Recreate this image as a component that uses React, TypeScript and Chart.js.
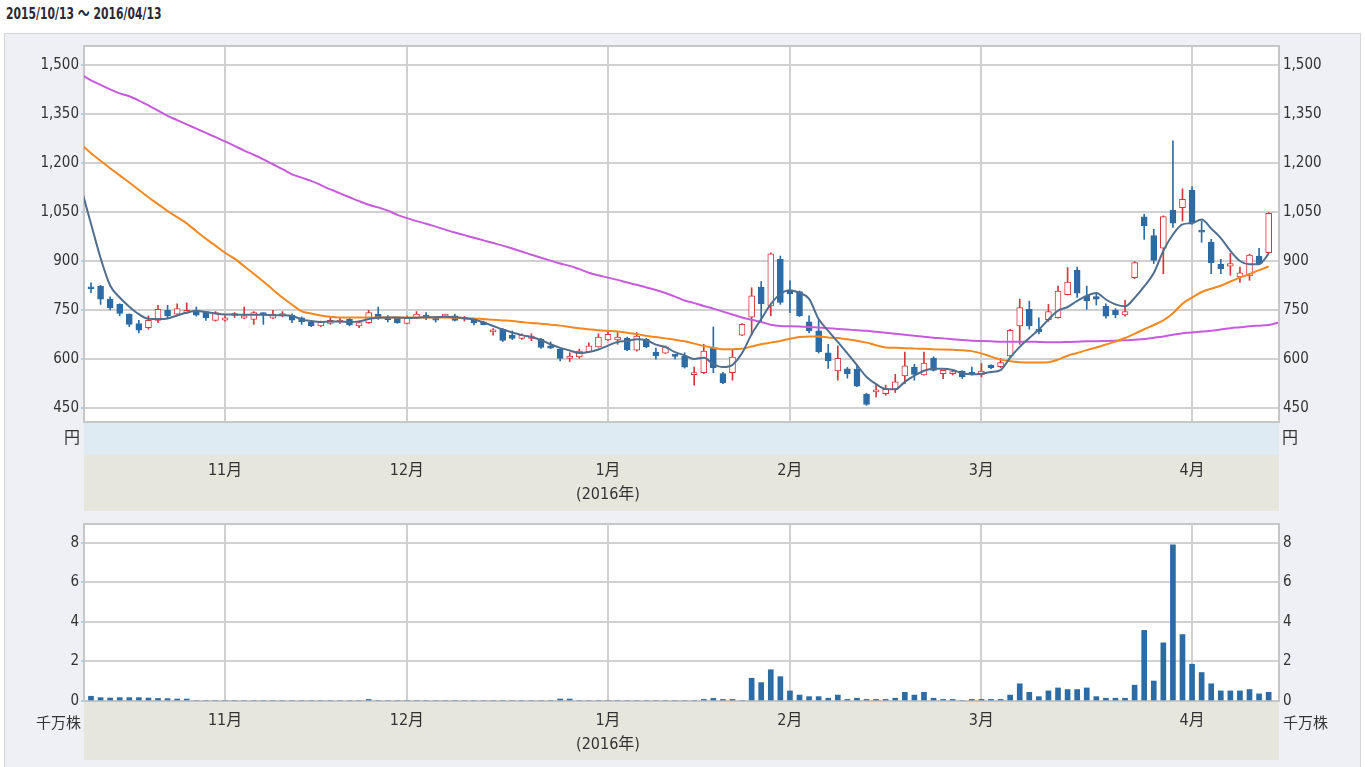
import React, { useEffect, useRef } from "react";
import { Chart, registerables } from "chart.js";
Chart.register(...registerables);

const FONT = '"Liberation Sans Narrow", "Arial Narrow", "DejaVu Sans Condensed", "Noto Sans CJK JP", sans-serif';

const periodTitle = "2015/10/13 ～ 2016/04/13";
const priceUnit = "円";
const volumeUnit = "千万株";
const monthTickDays = [14, 33, 54, 73, 93, 115];
const monthTickLabels: (string | string[])[] = ["11月", "12月", ["1月", "(2016年)"], "2月", "3月", "4月"];
const priceTicks = [450, 600, 750, 900, 1050, 1200, 1350, 1500];
const volumeTicks = [0, 2, 4, 6, 8];

// daily candles, trading days 0..123 (2015/10/13 .. 2016/04/13)
const opens = [820, 823, 783, 767, 737, 708, 696, 718, 749, 737, 740, 749, 744, 718, 719, 733, 725, 721, 740, 725,
  733, 734, 726, 713, 701, 709, 713, 721, 701, 711, 737, 728, 725, 709, 726, 732, 725, 731, 732, 722,
  721, 714, 683, 691, 673, 663, 663, 660, 640, 630, 602, 606, 622, 637, 658, 658, 663, 627, 660, 621,
  618, 612, 609, 552, 558, 635, 555, 558, 673, 728, 820, 762, 905, 808, 806, 714, 686, 619, 563, 570,
  568, 492, 499, 494, 507, 548, 575, 551, 602, 555, 555, 563, 556, 551, 581, 576, 609, 701, 752, 691,
  720, 726, 797, 872, 793, 791, 762, 749, 735, 849, 1035, 978, 939, 1055, 1063, 1117, 992, 957, 890, 884,
  851, 854, 915, 925];
const highs = [833, 825, 790, 769, 738, 718, 732, 764, 764, 769, 772, 759, 745, 745, 732, 742, 759, 745, 741, 749,
  745, 738, 729, 716, 716, 727, 724, 724, 716, 749, 759, 733, 727, 732, 745, 742, 729, 737, 737, 730,
  724, 716, 693, 693, 686, 677, 677, 663, 652, 632, 619, 630, 649, 677, 686, 681, 667, 681, 663, 633,
  640, 612, 619, 575, 645, 698, 559, 627, 708, 818, 837, 925, 915, 839, 808, 732, 718, 645, 640, 574,
  582, 495, 520, 520, 553, 621, 584, 621, 607, 566, 562, 564, 575, 586, 582, 602, 691, 783, 777, 726,
  767, 823, 880, 881, 823, 803, 769, 754, 780, 898, 1043, 997, 1038, 1268, 1121, 1127, 1022, 966, 905, 923,
  881, 921, 939, 1048];
const lows = [803, 767, 750, 732, 699, 680, 691, 711, 726, 736, 739, 731, 718, 716, 716, 727, 723, 706, 706, 723,
  729, 711, 706, 699, 699, 706, 709, 701, 696, 709, 721, 713, 709, 708, 723, 720, 713, 726, 716, 716,
  704, 704, 673, 653, 659, 660, 656, 632, 632, 594, 592, 602, 620, 636, 656, 645, 625, 624, 634, 599,
  617, 600, 572, 520, 555, 558, 524, 535, 671, 673, 716, 732, 767, 742, 730, 680, 618, 571, 535, 541,
  515, 458, 484, 489, 497, 524, 535, 550, 563, 540, 551, 540, 550, 545, 570, 573, 606, 645, 691, 677,
  715, 725, 796, 788, 752, 765, 725, 726, 731, 846, 966, 892, 861, 1003, 1022, 1012, 957, 861, 861, 856,
  834, 841, 890, 922];
const closes = [815, 783, 757, 739, 706, 688, 718, 752, 732, 754, 749, 734, 726, 742, 726, 736, 732, 742, 736, 737,
  736, 719, 714, 701, 713, 718, 717, 704, 711, 742, 726, 720, 710, 726, 737, 728, 719, 734, 718, 726,
  710, 705, 688, 657, 663, 673, 670, 635, 633, 602, 609, 624, 640, 667, 675, 667, 628, 670, 637, 609,
  637, 608, 575, 557, 624, 573, 527, 606, 706, 793, 769, 922, 773, 800, 732, 686, 622, 594, 602, 555,
  517, 461, 505, 507, 530, 579, 553, 587, 565, 565, 558, 545, 553, 563, 573, 589, 688, 757, 701, 683,
  745, 808, 835, 801, 778, 783, 731, 735, 745, 895, 1007, 902, 1036, 1016, 1089, 1016, 988, 895, 876, 892,
  864, 918, 892, 1046];
// volume, 千万株
const volumes = [0.24, 0.17, 0.15, 0.17, 0.17, 0.17, 0.15, 0.13, 0.12, 0.1, 0.1, 0, 0, 0, 0, 0, 0, 0, 0, 0,
  0, 0, 0, 0, 0, 0, 0, 0, 0, 0.08, 0, 0, 0, 0, 0, 0, 0, 0, 0, 0,
  0, 0, 0, 0, 0, 0, 0, 0, 0, 0.1, 0.1, 0, 0, 0, 0, 0, 0, 0, 0, 0,
  0, 0, 0, 0, 0.08, 0.13, 0.08, 0.08, 0, 1.15, 0.93, 1.58, 1.23, 0.51, 0.3, 0.22, 0.22, 0.14, 0.3, 0.08,
  0.14, 0.08, 0.08, 0.08, 0.14, 0.44, 0.3, 0.44, 0.14, 0.08, 0.08, 0, 0.08, 0.08, 0.08, 0.08, 0.3, 0.87, 0.44, 0.22,
  0.51, 0.66, 0.58, 0.58, 0.66, 0.22, 0.14, 0.14, 0.14, 0.8, 3.57, 1.01, 2.94, 7.9, 3.36, 1.86, 1.44, 0.87, 0.51, 0.51,
  0.51, 0.58, 0.36, 0.44];
// moving averages, first value is the day before 2015/10/13
const maStartDay = -1;
const maShort = [1120, 1014, 909, 825, 788, 760, 737, 723, 722, 724, 733, 742, 747, 744, 739, 736, 736, 735, 735, 735,
  734, 734, 732, 721, 716, 713, 715, 715, 713, 715, 722, 726, 727, 727, 725, 726, 728, 728, 729, 728,
  725, 721, 712, 701, 690, 681, 673, 667, 658, 645, 634, 626, 618, 621, 629, 641, 652, 655, 660, 657,
  644, 636, 621, 611, 600, 604, 584, 575, 582, 618, 676, 722, 768, 799, 810, 802, 784, 722, 686, 652,
  617, 581, 545, 523, 508, 507, 530, 549, 564, 570, 570, 566, 556, 553, 555, 560, 566, 604, 637, 664,
  690, 721, 748, 759, 778, 793, 802, 782, 767, 761, 787, 822, 863, 931, 981, 1012, 1016, 1027, 999, 970,
  931, 900, 890, 890, 922];
const maMid = [1256, 1230, 1207, 1184, 1162, 1140, 1117, 1095, 1074, 1053, 1034, 1015, 991, 968, 947, 925, 907, 884, 861, 837,
  812, 788, 766, 746, 739, 733, 729, 727, 727, 727, 727, 727, 727, 727, 727, 727, 727, 727, 727, 726,
  725, 724, 722, 720, 718, 716, 713, 710, 708, 705, 702, 698, 694, 691, 688, 686, 684, 680, 676, 671,
  667, 663, 659, 654, 647, 640, 634, 630, 630, 631, 638, 645, 650, 655, 662, 667, 669, 669, 666, 664,
  660, 656, 650, 642, 635, 634, 633, 632, 631, 630, 629, 628, 627, 624, 617, 607, 598, 593, 590, 589,
  589, 590, 598, 610, 618, 627, 635, 644, 653, 664, 677, 691, 704, 718, 740, 769, 788, 805, 815, 824,
  837, 849, 860, 872, 883];
const maLong = [1470, 1453, 1439, 1425, 1413, 1404, 1391, 1376, 1360, 1344, 1331, 1318, 1305, 1292, 1279, 1266, 1252, 1238, 1225, 1211,
  1196, 1181, 1165, 1155, 1145, 1132, 1119, 1107, 1095, 1083, 1072, 1064, 1054, 1041, 1031, 1022, 1014, 1005, 996, 987,
  979, 971, 963, 955, 947, 938, 929, 919, 910, 901, 892, 885, 875, 864, 856, 849, 842, 834, 827, 819,
  811, 802, 791, 779, 771, 762, 754, 745, 736, 727, 720, 713, 705, 701, 700, 699, 698, 696, 694, 692,
  690, 688, 686, 683, 680, 677, 674, 671, 668, 665, 663, 660, 658, 656, 655, 654, 653, 653, 653, 653,
  652, 651, 651, 652, 653, 654, 654, 655, 656, 657, 659, 661, 665, 669, 674, 679, 681, 684, 686, 690,
  694, 697, 700, 702, 704, 711];

const X_MIN = -0.73;
const X_MAX = 124.08;
const UP_LINE = "#d8343c";
const UP_FILL = "#ffffff";
const DOWN = "#2c6ba4";
const GRID = "#d0d0d0";
const TEXT = "#333333";

const panelPlugin = {
  id: "panel",
  beforeDraw(chart: any, _a: any, opts: any) {
    const { ctx, chartArea } = chart;
    const { left, right, top, bottom } = chartArea;
    ctx.save();
    ctx.fillStyle = "#ffffff";
    ctx.fillRect(left, top, right - left, bottom - top);
    for (const b of opts.bands || []) {
      ctx.fillStyle = b.color;
      ctx.fillRect(left, bottom + b.from, right - left, b.to - b.from);
    }
    ctx.restore();
  },
  beforeDatasetsDraw(chart: any) {
    const { ctx, chartArea } = chart;
    const { left, right, top, bottom } = chartArea;
    ctx.save();
    ctx.strokeStyle = "#c6c6c6";
    ctx.lineWidth = 2;
    ctx.strokeRect(left, top, right - left, bottom - top);
    ctx.restore();
  },
};

function monthAxis(padding: number, height: number) {
  return {
    type: "linear",
    min: X_MIN,
    max: X_MAX,
    offset: false,
    afterBuildTicks: (s: any) => {
      s.ticks = monthTickDays.map((v) => ({ value: v }));
    },
    afterFit: (s: any) => {
      s.height = height;
    },
    ticks: {
      autoSkip: false,
      maxRotation: 0,
      padding,
      color: TEXT,
      font: { family: FONT, size: 16, lineHeight: 1.55 },
      callback: (_v: any, idx: number) => monthTickLabels[idx],
    },
    grid: { color: GRID, lineWidth: 2, drawTicks: false, offset: false },
    border: { display: false },
  };
}

function valueAxis(position: string, min: number, max: number, ticks: number[], width: number) {
  const left = position === "left";
  return {
    position,
    min,
    max,
    beginAtZero: false,
    afterBuildTicks: (s: any) => {
      s.ticks = ticks.map((v) => ({ value: v }));
    },
    afterFit: (s: any) => {
      s.width = width;
    },
    ticks: {
      color: TEXT,
      padding: left ? 2 : 4,
      font: { family: FONT, size: 15 },
      callback: (v: any) => Number(v).toLocaleString("en-US"),
    },
    grid: left
      ? { color: GRID, lineWidth: 2, tickLength: 3, tickColor: "#a6d2ea" }
      : { drawOnChartArea: false, drawTicks: false },
    border: { display: false },
  };
}

export default function App() {
  const priceRef = useRef<HTMLCanvasElement | null>(null);
  const volRef = useRef<HTMLCanvasElement | null>(null);

  useEffect(() => {
    const up = opens.map((o, i) => closes[i] >= o);
    const lineData = (arr: number[]) => arr.map((v, k) => ({ x: k + maStartDay, y: v }));

    const priceChart = new Chart(priceRef.current as HTMLCanvasElement, {
      type: "bar",
      data: {
        datasets: [
          {
            type: "line",
            label: "短期移動平均",
            data: lineData(maShort),
            borderColor: "#4f6e8f",
            borderWidth: 2,
            pointRadius: 0,
            cubicInterpolationMode: "monotone",
            order: 0,
          } as any,
          {
            type: "line",
            label: "中期移動平均",
            data: lineData(maMid),
            borderColor: "#f5871f",
            borderWidth: 2,
            pointRadius: 0,
            cubicInterpolationMode: "monotone",
            order: 1,
          } as any,
          {
            type: "line",
            label: "長期移動平均",
            data: lineData(maLong),
            borderColor: "#c65bdc",
            borderWidth: 2,
            pointRadius: 0,
            cubicInterpolationMode: "monotone",
            order: 2,
          } as any,
          {
            type: "bar",
            label: "実体",
            data: opens.map((o, i) => ({ x: i, y: [o, closes[i]] })),
            backgroundColor: up.map((u) => (u ? UP_FILL : DOWN)),
            borderColor: up.map((u) => (u ? UP_LINE : DOWN)),
            borderWidth: 1,
            borderSkipped: false,
            barThickness: 6,
            minBarLength: 2,
            grouped: false,
            order: 3,
          } as any,
          {
            type: "bar",
            label: "ヒゲ",
            data: lows.map((l, i) => ({ x: i, y: [l, highs[i]] })),
            backgroundColor: up.map((u) => (u ? UP_LINE : DOWN)),
            borderWidth: 0,
            barThickness: 1,
            grouped: false,
            order: 4,
          } as any,
        ],
      },
      options: {
        animation: false,
        responsive: false,
        maintainAspectRatio: false,
        layout: { padding: { top: 12, left: 0, right: 0, bottom: 0 } },
        plugins: {
          legend: { display: false },
          tooltip: { enabled: false },
          panel: {
            bands: [
              { from: 0, to: 33, color: "#deebf2" },
              { from: 33, to: 89, color: "#e6e6dd" },
            ],
          },
        } as any,
        scales: {
          x: monthAxis(36, 89),
          y: valueAxis("left", 407, 1558, priceTicks, 80),
          y2: valueAxis("right", 407, 1558, priceTicks, 82),
        } as any,
      },
      plugins: [panelPlugin],
    });

    const volChart = new Chart(volRef.current as HTMLCanvasElement, {
      type: "bar",
      data: {
        datasets: [
          {
            label: "出来高",
            data: volumes.map((v, i) => ({ x: i, y: v })),
            backgroundColor: DOWN,
            borderWidth: 0,
            barThickness: 5,
            grouped: false,
          } as any,
        ],
      },
      options: {
        animation: false,
        responsive: false,
        maintainAspectRatio: false,
        layout: { padding: { top: 1, left: 0, right: 0, bottom: 0 } },
        plugins: {
          legend: { display: false },
          tooltip: { enabled: false },
          panel: { bands: [{ from: 0, to: 59, color: "#e6e6dd" }] },
        } as any,
        scales: {
          x: monthAxis(7, 66),
          y: valueAxis("left", 0, 8.95, volumeTicks, 80),
          y2: valueAxis("right", 0, 8.95, volumeTicks, 82),
        } as any,
      },
      plugins: [panelPlugin],
    });

    return () => {
      priceChart.destroy();
      volChart.destroy();
    };
  }, []);

  const label = (text: string, left: number, top: number, size: number, extra: any = {}) => (
    <div
      style={{
        position: "absolute",
        left,
        top,
        fontFamily: FONT,
        fontSize: size,
        lineHeight: `${size + 2}px`,
        color: TEXT,
        whiteSpace: "nowrap",
        ...extra,
      }}
    >
      {text}
    </div>
  );

  return (
    <div style={{ position: "absolute", left: 0, top: 0, width: 1365, height: 767, background: "#ffffff", overflow: "hidden" }}>
      {label(periodTitle, 6, 5, 15, {
        fontWeight: "bold",
        color: "#2a2a35",
        transform: "scale(0.8, 1.05)",
        transformOrigin: "0 0",
      })}
      <div
        style={{
          position: "absolute",
          left: 4,
          top: 33,
          width: 1357,
          height: 740,
          background: "#eff0f5",
          border: "1px solid #d3d4da",
          boxSizing: "border-box",
        }}
      />
      <canvas
        ref={priceRef}
        width={1357}
        height={478}
        style={{ position: "absolute", left: 4, top: 33, width: 1357, height: 478 }}
      />
      <canvas
        ref={volRef}
        width={1357}
        height={256}
        style={{ position: "absolute", left: 4, top: 511, width: 1357, height: 256 }}
      />
      {label(priceUnit, 64, 429, 16)}
      {label(priceUnit, 1282, 429, 16)}
      {label(volumeUnit, 36, 715, 15)}
      {label(volumeUnit, 1283, 715, 15)}
    </div>
  );
}
